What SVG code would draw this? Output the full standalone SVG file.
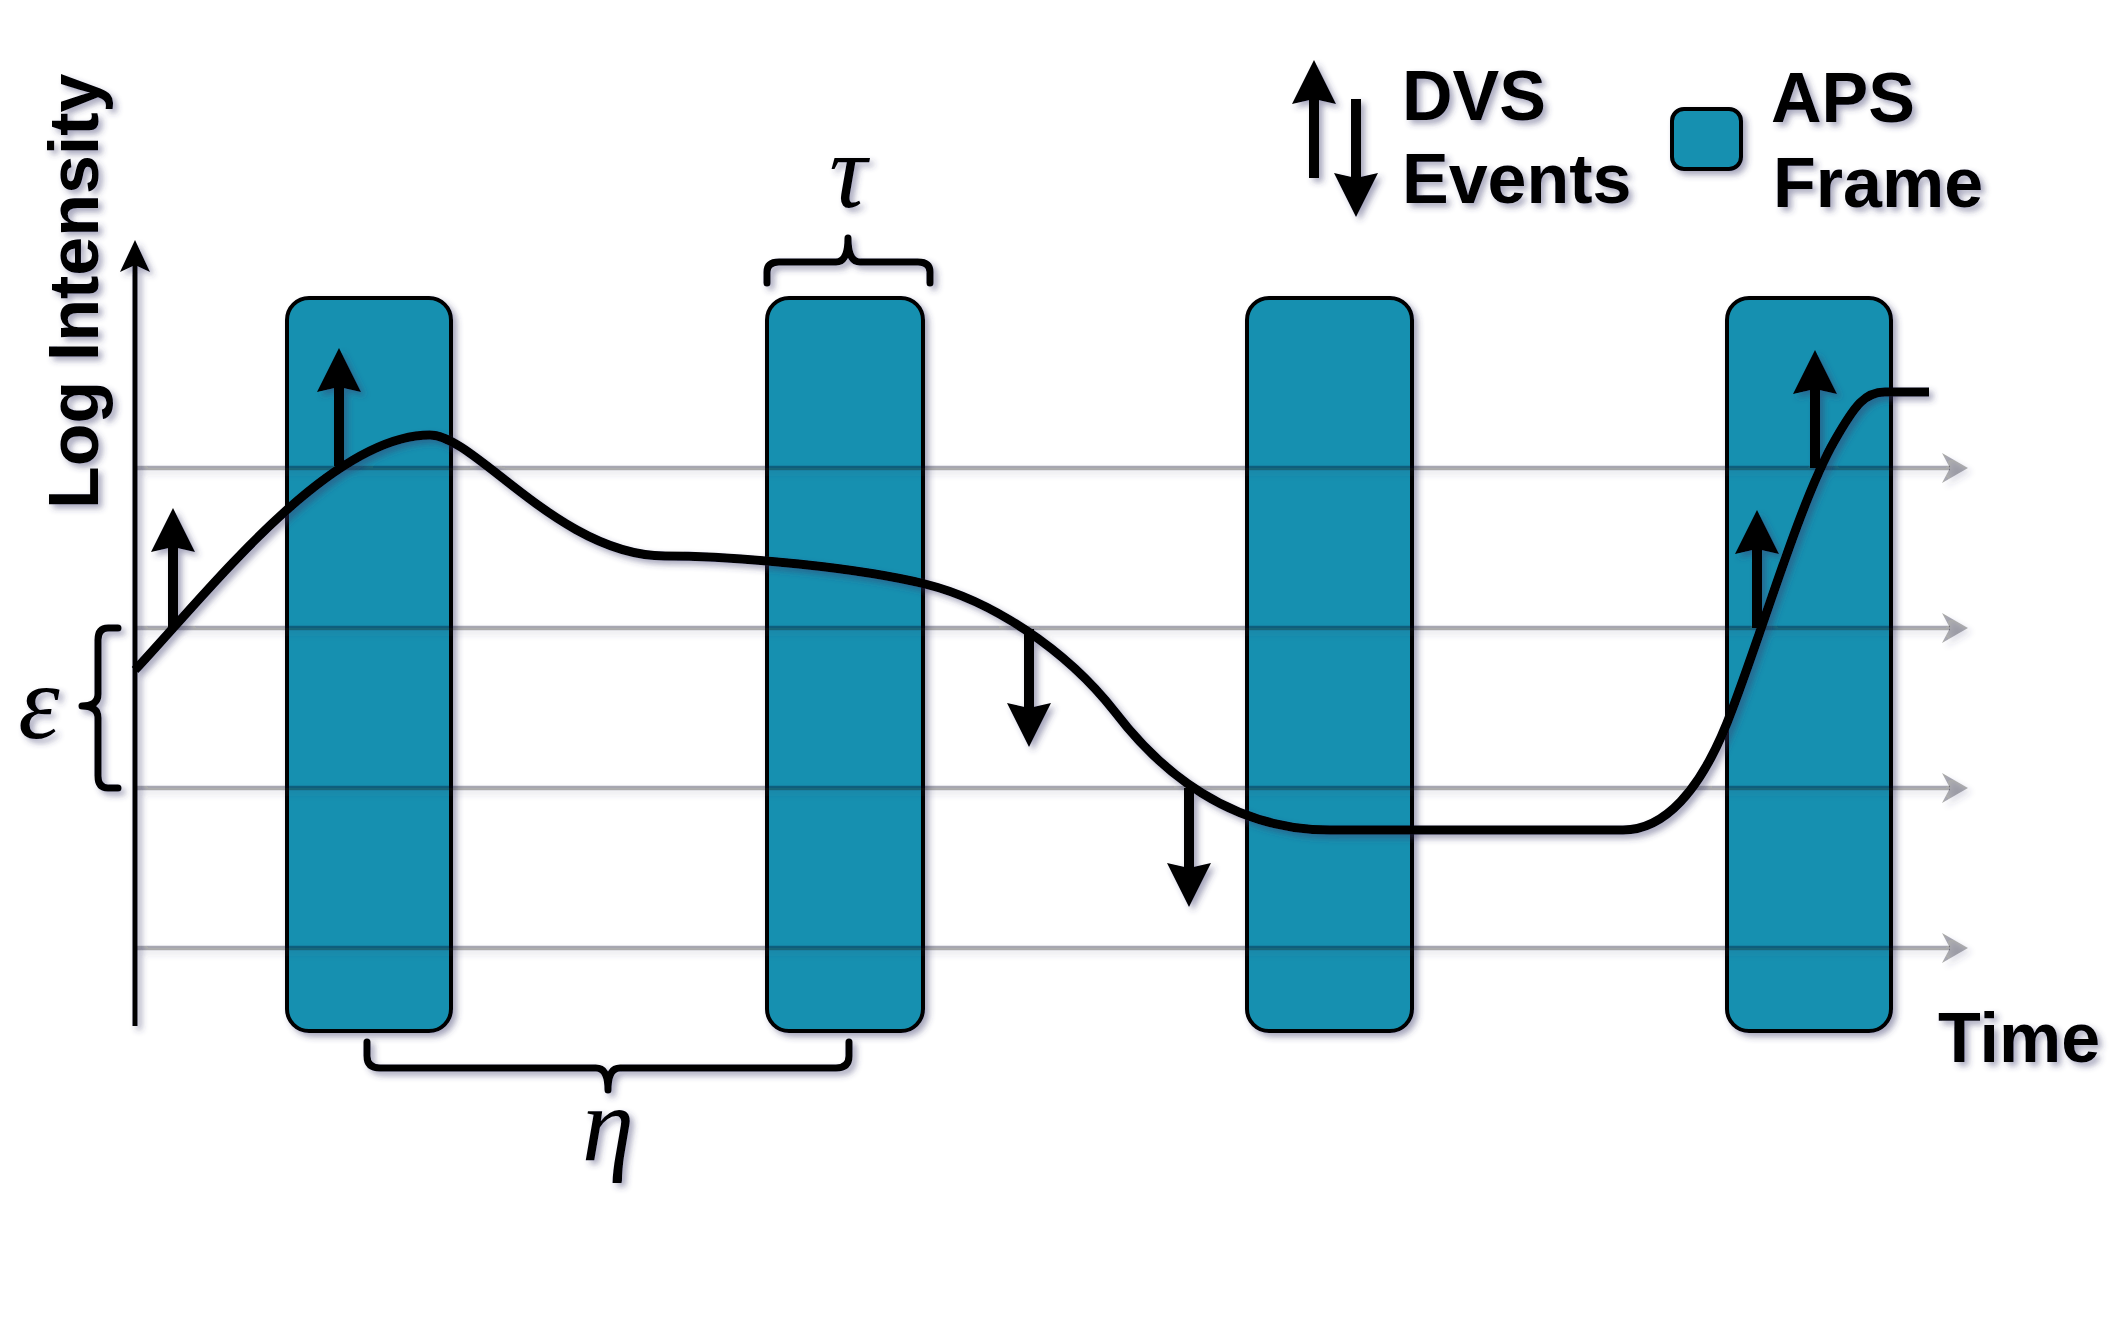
<svg xmlns="http://www.w3.org/2000/svg" width="2122" height="1332" viewBox="0 0 2122 1332">
<style>
.frame{fill:#1890b0;stroke:#000;stroke-width:4}
.lbl{font-family:"Liberation Sans",Arial,sans-serif;font-weight:bold;font-size:70px;fill:#000}
.greek{font-family:"Liberation Serif","Times New Roman",serif;font-style:italic;font-size:105px;fill:#000}
.grid{stroke:#000;stroke-opacity:0.33;stroke-width:4.5;fill:none}
.gridhead{fill:#000;fill-opacity:0.33}
.brace{fill:none;stroke:#000;stroke-width:7;stroke-linecap:round;stroke-linejoin:round}
.ev{stroke:#000;stroke-width:10;fill:none}
.evhead{fill:#000}
</style>
<defs>
<filter id="sh" x="-20%" y="-20%" width="140%" height="140%">
<feDropShadow dx="4" dy="4" stdDeviation="3" flood-color="#3a3a6a" flood-opacity="0.45"/>
</filter>
</defs>
<rect width="2122" height="1332" fill="#fff"/>
<g id="frames" filter="url(#sh)">
<rect id="frame1" class="frame" x="287" y="298" width="164" height="733" rx="22"/>
<rect id="frame2" class="frame" x="767" y="298" width="156" height="733" rx="22"/>
<rect id="frame3" class="frame" x="1247" y="298" width="165" height="733" rx="22"/>
<rect id="frame4" class="frame" x="1727" y="298" width="164" height="733" rx="22"/>
</g>
<g id="connectors" filter="url(#sh)">
<g id="thresholds">
<path class="grid" d="M137,468 H1950"/>
<path class="gridhead" d="M1968,468 L1942,453 L1950,468 L1942,483 Z"/>
<path class="grid" d="M137,628 H1950"/>
<path class="gridhead" d="M1968,628 L1942,613 L1950,628 L1942,643 Z"/>
<path class="grid" d="M137,788 H1950"/>
<path class="gridhead" d="M1968,788 L1942,773 L1950,788 L1942,803 Z"/>
<path class="grid" d="M137,948 H1950"/>
<path class="gridhead" d="M1968,948 L1942,933 L1950,948 L1942,963 Z"/>
</g>
<path id="axis" d="M135,1026 V262" stroke="#000" stroke-width="5" fill="none"/>
<path d="M135,240 L150,272 L135,265 L120,272 Z" fill="#000"/>
<path id="curve" fill="none" stroke="#000" stroke-width="9" stroke-linejoin="round" d="M135,670 C210,590 330,435 430,435 C475,435 560,556 665,556 C740,556 860,568 925,584 C990,600 1065,648 1115,712 C1160,771 1230,830 1330,830 L1623,830 C1665,830 1700,790 1727,723 C1760,640 1800,500 1835,440 C1855,405 1865,392 1885,392 L1929,392"/>
<g id="events">
<path class="ev" d="M173,628 V546"/><path class="evhead" d="M173,508 L195,552 L173,547 L151,552 Z"/>
<path class="ev" d="M339,466 V386"/><path class="evhead" d="M339,348 L361,392 L339,387 L317,392 Z"/>
<path class="ev" d="M1029,629 V709"/><path class="evhead" d="M1029,747 L1051,703 L1029,708 L1007,703 Z"/>
<path class="ev" d="M1189,788 V869"/><path class="evhead" d="M1189,907 L1211,863 L1189,868 L1167,863 Z"/>
<path class="ev" d="M1757,628 V548"/><path class="evhead" d="M1757,510 L1779,554 L1757,549 L1735,554 Z"/>
<path class="ev" d="M1815,468 V388"/><path class="evhead" d="M1815,350 L1837,394 L1815,389 L1793,394 Z"/>
</g>
</g>
<g id="braces" filter="url(#sh)">
<path id="brace-eps" class="brace" d="M118,628 L108,628 Q98,628 98,640 L98,694 Q98,706 82,706 Q98,706 98,718 L98,776 Q98,788 108,788 L118,788"/>
<path id="brace-tau" class="brace" d="M767,283 L767,272 Q767,262 779,262 L836,262 Q848,262 848,238 Q848,262 860,262 L918,262 Q930,262 930,272 L930,283"/>
<path id="brace-eta" class="brace" d="M367,1042 L367,1056 Q367,1068 380,1068 L596,1068 Q608,1068 608,1090 Q608,1068 620,1068 L836,1068 Q849,1068 849,1056 L849,1042"/>
</g>
<g id="labels" filter="url(#sh)">
<text class="lbl" transform="translate(98,509) rotate(-90)">Log Intensity</text>
<text class="lbl" x="1938" y="1062">Time</text>
<text class="greek" x="39" y="738" text-anchor="middle">ε</text>
<text class="greek" x="848" y="207" text-anchor="middle">τ</text>
<text class="greek" x="608" y="1160" text-anchor="middle">η</text>
</g>
<g id="legend" filter="url(#sh)">
<g id="legend-dvs">
<path class="ev" d="M1314,178 V98"/><path class="evhead" d="M1314,60 L1336,104 L1314,99 L1292,104 Z"/>
<path class="ev" d="M1356,99 V179"/><path class="evhead" d="M1356,217 L1378,173 L1356,178 L1334,173 Z"/>
<text class="lbl" x="1402" y="120">DVS</text>
<text class="lbl" x="1402" y="203">Events</text>
</g>
<g id="legend-aps">
<rect class="frame" x="1672" y="109" width="69" height="60" rx="12"/>
<text class="lbl" x="1771" y="122">APS</text>
<text class="lbl" x="1773" y="207">Frame</text>
</g>
</g>
</svg>
